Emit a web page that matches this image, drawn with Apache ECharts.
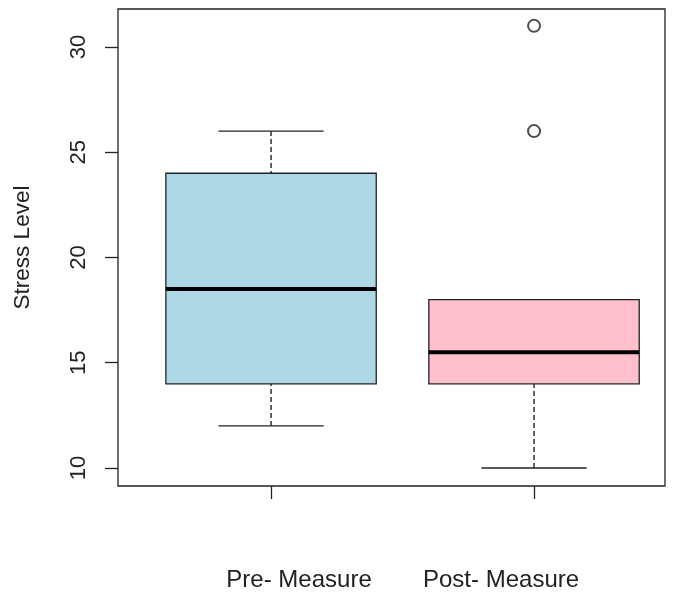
<!DOCTYPE html>
<html>
<head>
<meta charset="utf-8">
<script src="https://cdn.jsdelivr.net/npm/echarts@6/dist/echarts.min.js"></script>
<style>
html,body{margin:0;padding:0;background:#fff;}
#chart{width:679px;height:600px;}
</style>
</head>
<body>
<div id="chart"></div>
<script>
// ---- data ----
var categories = ['Pre- Measure', 'Post- Measure'];
var lowerWhisker = [12, 10];
var q1 = [14, 14];
var median = [18.5, 15.5];
var q3 = [24, 18];
var upperWhisker = [26, 18];
var outlierGroup = [2, 2];
var outlierValue = [26, 31];
var yTicks = [10, 15, 20, 25, 30];
var xTicks = [1, 2];
var boxColors = ['#ADD8E6', '#FFC0CB'];

var boxData = categories.map(function (c, i) {
  return [i + 1, lowerWhisker[i], q1[i], median[i], q3[i], upperWhisker[i]];
});
var outlierData = outlierGroup.map(function (g, i) { return [g, outlierValue[i]]; });

var FONT = 'Liberation Sans, Arial, sans-serif';
var INK = '#222';

var chart = echarts.init(document.getElementById('chart'), null, {renderer: 'canvas'});

function renderBox(params, api) {
  var x = api.value(0);
  var lo = api.value(1), a = api.value(2), m = api.value(3), b = api.value(4), hi = api.value(5);
  var halfBox = 0.4, halfCap = 0.2;
  var pL = api.coord([x - halfBox, b]);
  var pR = api.coord([x + halfBox, a]);
  var cL = api.coord([x - halfCap, lo]);
  var cR = api.coord([x + halfCap, hi]);
  var pc = api.coord([x, m]);
  var pLo = api.coord([x, lo]);
  var pHi = api.coord([x, hi]);
  var pA = api.coord([x, a]);
  var pB = api.coord([x, b]);
  var lineStyle = {stroke: INK, lineWidth: 1.3, fill: null};
  return {
    type: 'group',
    children: [
      {type: 'line', shape: {x1: pHi[0], y1: pHi[1], x2: pB[0], y2: pB[1]},
        style: {stroke: INK, lineWidth: 1.4, lineDash: [5, 3]}},
      {type: 'line', shape: {x1: pLo[0], y1: pLo[1], x2: pA[0], y2: pA[1]},
        style: {stroke: INK, lineWidth: 1.4, lineDash: [5, 3]}},
      {type: 'line', shape: {x1: cL[0], y1: pHi[1], x2: cR[0], y2: pHi[1]}, style: lineStyle},
      {type: 'line', shape: {x1: cL[0], y1: pLo[1], x2: cR[0], y2: pLo[1]}, style: lineStyle},
      {type: 'rect', shape: {x: pL[0], y: pL[1], width: pR[0] - pL[0], height: pR[1] - pL[1]},
        style: {fill: boxColors[params.dataIndex], stroke: INK, lineWidth: 1.3}},
      {type: 'line', shape: {x1: pL[0], y1: pc[1], x2: pR[0], y2: pc[1]},
        style: {stroke: '#000', lineWidth: 4}}
    ]
  };
}

var option = {
  backgroundColor: '#fff',
  animation: false,
  grid: {
    left: 118, right: 14, top: 9, bottom: 114,
    show: true, borderColor: INK, borderWidth: 1.3,
    containLabel: false, outerBoundsMode: 'none'
  },
  xAxis: {
    type: 'value',
    min: 0.418, max: 2.498,
    axisLine: {show: false},
    splitLine: {show: false},
    axisTick: {show: true, customValues: xTicks, length: 13, inside: false,
      lineStyle: {color: INK, width: 1.3}},
    axisLabel: {
      show: true, customValues: xTicks, margin: 82,
      formatter: function (v) {
        var i = Math.round(v) - 1;
        return i === 0 ? '{a|' + categories[0] + '}' : '{b|' + categories[1] + '}';
      },
      rich: {
        a: {fontFamily: FONT, fontSize: 24, color: INK, padding: [0, 0, 0, 56]},
        b: {fontFamily: FONT, fontSize: 24, color: INK, padding: [0, 66, 0, 0]}
      }
    }
  },
  yAxis: {
    type: 'value',
    min: 9.145, max: 31.8,
    name: 'Stress Level',
    nameLocation: 'middle',
    nameGap: 84,
    nameRotate: 90,
    nameTextStyle: {fontFamily: FONT, fontSize: 22.5, color: INK},
    axisLine: {show: false},
    splitLine: {show: false},
    axisTick: {show: true, customValues: yTicks, length: 13, inside: false,
      lineStyle: {color: INK, width: 1.3}},
    axisLabel: {show: true, customValues: yTicks, rotate: 90, margin: 28,
      fontFamily: FONT, fontSize: 22, color: INK}
  },
  series: [
    {
      type: 'custom',
      renderItem: renderBox,
      data: boxData,
      encode: {x: 0, y: [1, 2, 3, 4, 5]},
      clip: false,
      z: 2
    },
    {
      type: 'scatter',
      data: outlierData,
      symbol: 'emptyCircle',
      symbolSize: 12,
      itemStyle: {color: INK, borderColor: INK, borderWidth: 1.5},
      z: 3
    }
  ]
};
chart.setOption(option);
</script>
</body>
</html>
